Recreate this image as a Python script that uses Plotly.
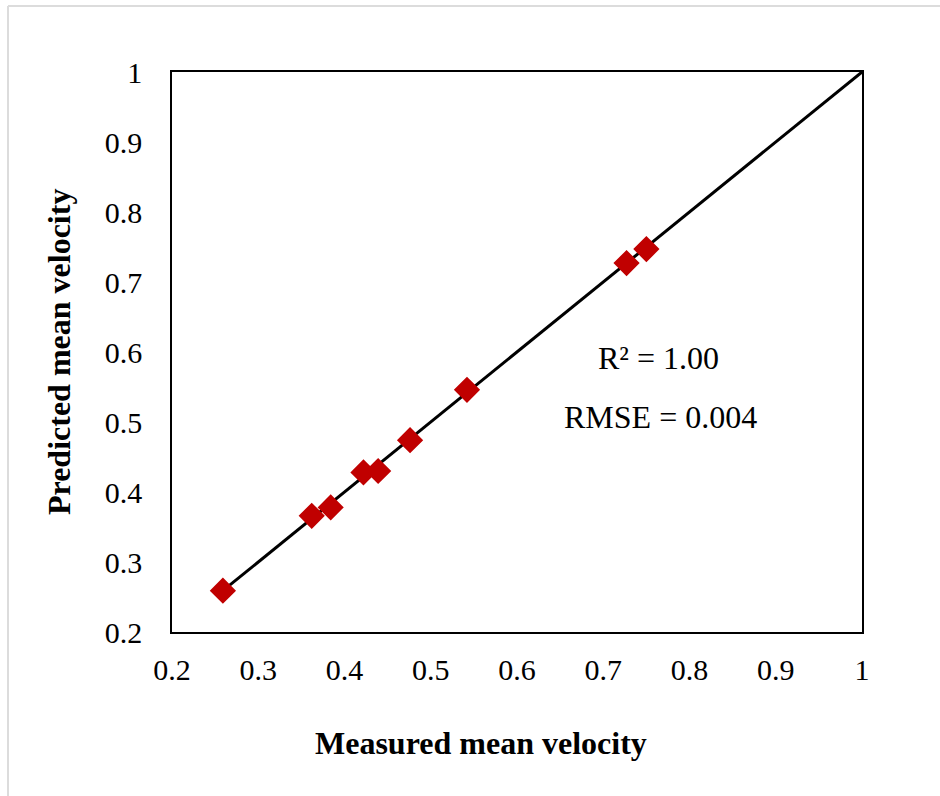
import plotly.graph_objects as go

# Measured vs. predicted mean velocity
measured = [0.259, 0.362, 0.384, 0.422, 0.439, 0.476, 0.542, 0.727, 0.750]
predicted = [0.259, 0.366, 0.378, 0.428, 0.430, 0.474, 0.546, 0.727, 0.747]

tick_vals = [0.2, 0.3, 0.4, 0.5, 0.6, 0.7, 0.8, 0.9, 1.0]
tick_text = ["0.2", "0.3", "0.4", "0.5", "0.6", "0.7", "0.8", "0.9", "1"]

r2_text = "R² = 1.00"
rmse_text = "RMSE = 0.004"

W, H = 940, 796
L, R, T, B = 172, 78, 72, 164
pw, ph = W - L - R, H - T - B

FONT = "Liberation Serif, Times New Roman, serif"

# 1:1 reference line from the smallest measured value up to 1
line_x = [min(measured), 1.0]

fig = go.Figure()
fig.add_trace(go.Scatter(
    x=line_x, y=line_x, mode="lines",
    line=dict(color="black", width=3),
    showlegend=False, hoverinfo="skip",
))
fig.add_trace(go.Scatter(
    x=measured, y=predicted, mode="markers",
    marker=dict(symbol="diamond", size=18, color="#C00000",
                line=dict(color="#C00000", width=2)),
    showlegend=False,
))

axis_common = dict(
    range=[0.2, 1.0], tickvals=tick_vals, ticktext=tick_text,
    showgrid=False, zeroline=False,
    showline=True, linecolor="black", linewidth=1.5, mirror=True,
    ticks="", tickfont=dict(family=FONT, size=30, color="black"),
)
fig.update_xaxes(**axis_common, ticklabelstandoff=10)
fig.update_yaxes(**axis_common, ticklabelstandoff=22)

# axis titles
fig.add_annotation(
    text="<b>Measured mean velocity</b>", xref="paper", yref="paper",
    x=(481 - L) / pw, y=(T + ph - 743) / ph, showarrow=False,
    font=dict(family=FONT, size=32, color="black"),
    xanchor="center", yanchor="middle",
)
fig.add_annotation(
    text="<b>Predicted mean velocity</b>", xref="paper", yref="paper",
    x=(59 - L) / pw, y=(T + ph - 352) / ph, showarrow=False, textangle=-90,
    font=dict(family=FONT, size=32, color="black"),
    xanchor="center", yanchor="middle",
)

# fit statistics
fig.add_annotation(
    text=r2_text, xref="paper", yref="paper",
    x=(658 - L) / pw, y=(T + ph - 358) / ph, showarrow=False,
    font=dict(family=FONT, size=32, color="black"),
    xanchor="center", yanchor="middle",
)
fig.add_annotation(
    text=rmse_text, xref="paper", yref="paper",
    x=(660 - L) / pw, y=(T + ph - 417) / ph, showarrow=False,
    font=dict(family=FONT, size=32, color="black"),
    xanchor="center", yanchor="middle",
)

# light frame around the chart area
def px_x(p):
    return (p - L) / pw

def px_y(p):
    return (T + ph - p) / ph

fig.add_shape(type="line", xref="paper", yref="paper",
              x0=px_x(8), x1=px_x(8), y0=px_y(6), y1=px_y(H),
              line=dict(color="#dcdcdc", width=2))
fig.add_shape(type="line", xref="paper", yref="paper",
              x0=px_x(8), x1=px_x(W), y0=px_y(6), y1=px_y(6),
              line=dict(color="#dcdcdc", width=2))

fig.update_layout(
    width=W, height=H,
    margin=dict(l=L, r=R, t=T, b=B),
    paper_bgcolor="white", plot_bgcolor="white",
    font=dict(family=FONT, color="black"),
)

fig.write_html("out.html")
